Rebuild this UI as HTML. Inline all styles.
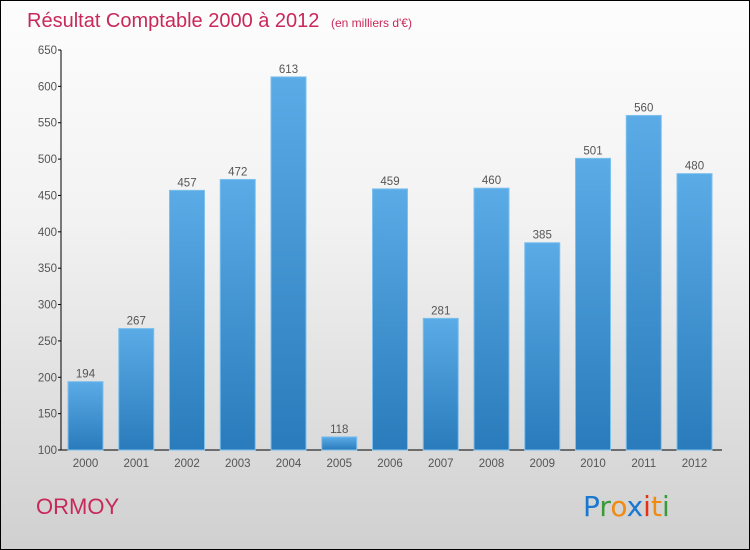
<!DOCTYPE html>
<html><head><meta charset="utf-8"><style>
body{margin:0;width:750px;height:550px;overflow:hidden;font-family:"Liberation Sans",sans-serif}
#wrap{position:absolute;left:0;top:0;width:748px;height:548px;border:1px solid #000;background:linear-gradient(#fdfdfd,#f2f2f2 40%,#d0d0d0);}
</style></head><body>
<div id="wrap">
<svg width="750" height="550" style="position:absolute;left:-1px;top:-1px">
<defs><linearGradient id="bg" x1="0" y1="0" x2="0" y2="1"><stop offset="0" stop-color="#5aabe6"/><stop offset="1" stop-color="#2a7bbb"/></linearGradient></defs>
<text x="27" y="27" font-size="20" fill="#c8285a">Résultat Comptable 2000 à 2012 <tspan font-size="12" dx="6">(en milliers d'€)</tspan></text>
<g id="axes"></g><g id="bars"></g>
<text x="36" y="514" font-size="22" fill="#c8285a">ORMOY</text>
<g font-size="28" font-family="DejaVu Sans, sans-serif">
<text x="583" y="516" fill="#1a78d0">P<tspan fill="#3a9a3a">r</tspan><tspan fill="#f08a10">o</tspan><tspan fill="#1a78d0">x</tspan><tspan fill="#e83010">i</tspan><tspan fill="#f08a10">t</tspan><tspan fill="#3a9a3a">i</tspan></text></g>
</svg></div>
<script>
const years=["2000","2001","2002","2003","2004","2005","2006","2007","2008","2009","2010","2011","2012"];
const values=[194,267,457,472,613,118,459,281,460,385,501,560,480];
const ticks=[100,150,200,250,300,350,400,450,500,550,600,650];
const NS="http://www.w3.org/2000/svg";
const y=v=>450-(v-100)*400/550;
const x=i=>85.5+i*50.75;
function mk(t,a,p){const e=document.createElementNS(NS,t);for(const k in a)e.setAttribute(k,a[k]);p.appendChild(e);return e;}
const ax=document.getElementById('axes'),bs=document.getElementById('bars');
const yl=mk('line',{x1:61,y1:50,x2:61,y2:450,stroke:'#000'},ax);


const xl=mk('line',{x1:61,y1:450,x2:722,y2:450,stroke:'#000'},ax);


ticks.forEach(t=>{mk('line',{x1:58,x2:61,y1:y(t),y2:y(t),stroke:'#000'},ax);
const tx=mk('text',{x:57,y:y(t)+4,'text-anchor':'end','font-size':11.5,fill:'#555'},ax);tx.textContent=t;

});
years.forEach((yr,i)=>{const v=values[i];
const r=mk('rect',{x:x(i)-17.5,y:y(v),width:35,height:450-y(v),fill:'url(#bg)',stroke:'#7cc0ee','stroke-width':1},bs);


const l=mk('text',{x:x(i),y:y(v)-4,'text-anchor':'middle','font-size':11.5,fill:'#555'},bs);l.textContent=v;


const xt=mk('text',{x:x(i),y:467,'text-anchor':'middle','font-size':11.5,fill:'#555'},bs);xt.textContent=yr;

});
</script>
</body></html>
